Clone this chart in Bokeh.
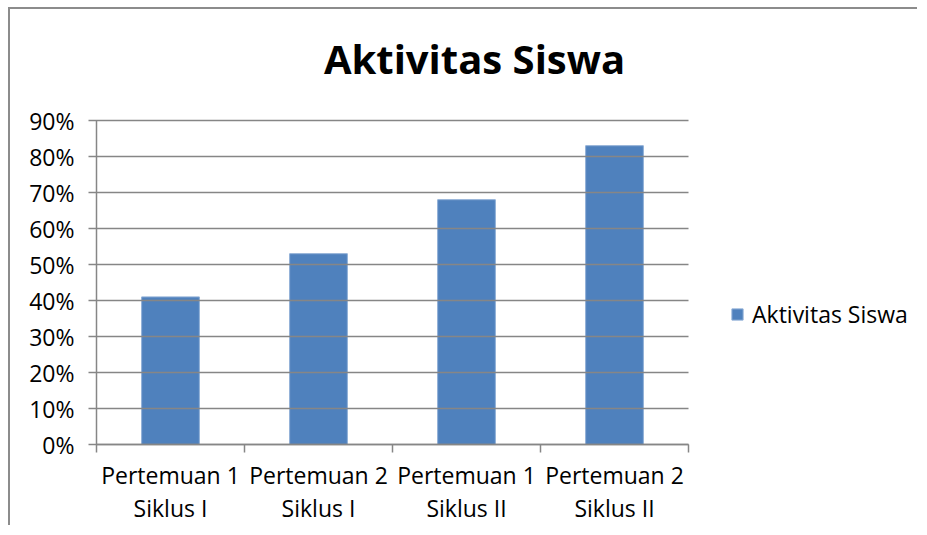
from bokeh.plotting import figure
from bokeh.models import (Range1d, FixedTicker, Label,
                          NumeralTickFormatter, Legend, LegendItem, ColumnDataSource)
from bokeh.embed import file_html
from bokeh.resources import INLINE

# ---- data ----
title_text = "Aktivitas Siswa"
series_name = "Aktivitas Siswa"
categories = ["Pertemuan 1\nSiklus I", "Pertemuan 2\nSiklus I",
              "Pertemuan 1\nSiklus II", "Pertemuan 2\nSiklus II"]
values = [0.41, 0.53, 0.68, 0.83]
y_ticks = [0.0, 0.1, 0.2, 0.3, 0.4, 0.5, 0.6, 0.7, 0.8, 0.9]

# ---- style / layout ----
FONT = "Open Sans"
GRAY = "#868686"
BAR = "#4F81BD"
W, H = 909, 518
LEFT, BOTTOM = 86, 83
PLOT_PX = 592                     # pixel width of the category area
PLOT_PY = 324                     # pixel height of the 0-90% area
FRAME_PX = W - LEFT               # frame runs to the right edge (legend lives there)
FRAME_PY = H - BOTTOM             # frame runs to the top edge (title lives there)

n = len(categories)
centers = [i + 0.5 for i in range(n)]      # category slot centres
edges = list(range(n + 1))                 # category slot boundaries
x_end = n * FRAME_PX / PLOT_PX
y_end = y_ticks[-1] * FRAME_PY / PLOT_PY

p = figure(width=W, height=H,
           x_range=Range1d(0, x_end), y_range=Range1d(0, y_end),
           output_backend="svg", toolbar_location=None,
           min_border_left=LEFT, min_border_right=0,
           min_border_top=0, min_border_bottom=BOTTOM)
p.styles = {"margin-left": "8px", "margin-top": "7px",
            "border-left": "2px solid #8c8c8c", "border-top": "2px solid #8c8c8c"}
p.outline_line_color = None
p.background_fill_color = "white"
p.border_fill_color = "white"

# y axis (its inward ticks double as the horizontal gridlines over the category area)
p.yaxis.ticker = FixedTicker(ticks=y_ticks)
p.yaxis.formatter = NumeralTickFormatter(format="0%")
p.yaxis.bounds = (y_ticks[0], y_ticks[-1])
p.yaxis.axis_line_color = GRAY
p.yaxis.axis_line_width = 1.5
p.yaxis.major_tick_line_color = GRAY
p.yaxis.major_tick_line_width = 1.5
p.yaxis.major_tick_out = 8
p.yaxis.major_tick_in = PLOT_PX
p.yaxis.minor_tick_line_color = None
p.yaxis.major_label_text_font = FONT
p.yaxis.major_label_text_font_size = "23px"
p.yaxis.major_label_text_color = "black"
p.yaxis.major_label_standoff = 14
p.ygrid.visible = False
p.xgrid.visible = False

# x axis: labels at slot centres, tick marks at slot boundaries
p.xaxis.ticker = FixedTicker(ticks=centers, minor_ticks=edges)
p.xaxis.major_label_overrides = {c: lab for c, lab in zip(centers, categories)}
p.xaxis.bounds = (0, n)
p.xaxis.axis_line_color = GRAY
p.xaxis.axis_line_width = 1.5
p.xaxis.major_tick_line_color = None
p.xaxis.major_tick_out = 0
p.xaxis.major_tick_in = 0
p.xaxis.minor_tick_line_color = GRAY
p.xaxis.minor_tick_line_width = 1.5
p.xaxis.minor_tick_out = 8
p.xaxis.minor_tick_in = 0
p.xaxis.major_label_text_font = FONT
p.xaxis.major_label_text_font_size = "23px"
p.xaxis.major_label_text_color = "black"
p.xaxis.major_label_text_line_height = 1.05
p.xaxis.major_label_standoff = 6

src = ColumnDataSource(dict(x=centers, val=values))
r = p.vbar(x="x", top="val", width=0.39, source=src,
           fill_color=BAR, line_color="#8eaed6", line_width=1)

legend = Legend(items=[LegendItem(label=series_name, renderers=[r])],
                location=(634, 114), orientation="vertical",
                glyph_width=14, glyph_height=14, label_standoff=8,
                padding=0, margin=0, spacing=0,
                border_line_color=None, background_fill_alpha=0,
                label_text_font=FONT, label_text_font_size="23px",
                label_text_color="black")
p.add_layout(legend)

title = Label(x=378, y=386, x_units="screen", y_units="screen",
              text=title_text, text_align="center", text_baseline="alphabetic",
              text_font=FONT, text_font_size="40px", text_font_style="bold",
              text_color="black")
p.add_layout(title)

open("out.html", "w").write(file_html(p, INLINE))
